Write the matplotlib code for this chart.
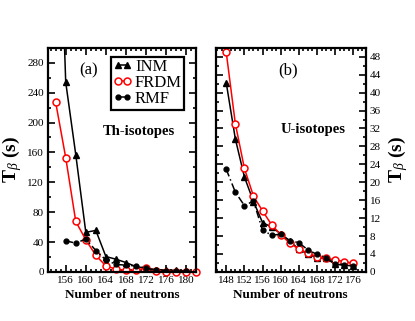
import numpy as np
import matplotlib
matplotlib.use('Agg')
import matplotlib.pyplot as plt
from matplotlib.ticker import MultipleLocator

plt.rcParams['font.family'] = 'Liberation Serif'
plt.rcParams['mathtext.fontset'] = 'custom'
plt.rcParams['mathtext.rm'] = 'Liberation Serif'
plt.rcParams['mathtext.bf'] = 'Liberation Serif:bold'
plt.rcParams['mathtext.it'] = 'Liberation Serif:italic'

# Th-isotopes (panel a)
th_n = [154, 156, 158, 160, 162, 164, 166, 168, 170, 172, 174, 176, 178, 180, 182]
th_inm = [650, 254, 157, 53, 55.5, 20.5, 17, 12.5, 7, 5, 3, 2.5, 2, 1.5]
th_frdm = [227, 153, 67.5, 43, 22, 8, 3.6, 2, 2, 5.5, 1, 0.5, 0.5, 0.3, 0.2]
th_rmf_n = [156, 158, 160, 162, 164, 166, 168, 170, 172, 174, 176, 178, 180]
th_rmf = [41.6, 38.5, 44, 28.6, 16, 10, 9, 8, 5, 2, 1.5, 1, 0.8]

# U-isotopes (panel b)
u_n = [148, 150, 152, 154, 156, 158, 160, 162, 164, 166, 168, 170, 172, 174, 176]
u_inm = [42.2, 29.7, 21.2, 15.7, 11, 10, 8.5, 6.8, 5.1, 3.9, 3.2, 3.0, 1.7, 1.5, 1.3]
u_frdm = [49, 33.1, 23.1, 16.9, 13.6, 10.5, 8.3, 6.4, 5.1, 4.2, 3.4, 3.0, 2.7, 2.3, 1.9]
u_rmf = [22.9, 17.8, 14.8, 15.8, 9.3, 8.2, 8.4, 7.0, 6.5, 4.9, 3.9, 3.2, 1.8, 1.6, 1.4]

fig = plt.figure(figsize=(4.15, 3.21), dpi=100)
ax1 = fig.add_axes([0.116, 0.153, 0.357, 0.698])
ax2 = fig.add_axes([0.520, 0.153, 0.361, 0.698])

inm_kw = dict(color='black', marker='^', ms=4, lw=1.1, label='INM')
frdm_kw = dict(color='red', marker='o', ms=5, mfc='white', mec='red', mew=1.1, lw=1.1, label='FRDM')
rmf_kw = dict(color='black', marker='o', ms=3.5, lw=1.1, dashes=(5, 2, 1, 2), label='RMF')

ax1.plot(th_n[:len(th_inm)], th_inm, **inm_kw)
ax1.plot(th_n, th_frdm, clip_on=False, **frdm_kw)
ax1.plot(th_rmf_n, th_rmf, **rmf_kw)

ax2.plot(u_n, u_inm, **inm_kw)
ax2.plot(u_n, u_frdm, clip_on=False, **frdm_kw)
ax2.plot(u_n, u_rmf, **rmf_kw)

ax1.set_xlim(152.5, 182)
ax1.set_ylim(0, 300)
ax1.xaxis.set_minor_locator(MultipleLocator(1))
ax1.yaxis.set_major_locator(MultipleLocator(40))
ax1.yaxis.set_minor_locator(MultipleLocator(20))
ax1.set_xticks(range(156, 181, 4))

ax2.set_xlim(145.7, 178.7)
ax2.set_ylim(0, 50)
ax2.set_xticks(range(148, 177, 4))
ax2.xaxis.set_minor_locator(MultipleLocator(1))
ax2.yaxis.set_major_locator(MultipleLocator(4))
ax2.yaxis.set_minor_locator(MultipleLocator(2))
ax2.yaxis.tick_right()
ax2.yaxis.set_label_position('right')

for ax in (ax1, ax2):
    for s in ax.spines.values():
        s.set_linewidth(1.6)
    ax.tick_params(which='both', direction='in', top=True, bottom=True, left=True, right=True,
                   labelsize=8, width=1.2)
    ax.tick_params(which='major', length=5, pad=3)
    ax.tick_params(which='minor', length=2.5)
    ax.set_xlabel('Number of neutrons', fontsize=9.5, fontweight='bold', labelpad=3)
ax2.tick_params(labelleft=False, labelright=True)

ylab = r'$\mathbf{T}_{\beta}$ (s)'
ax1.set_ylabel(ylab, fontsize=14, fontweight='bold', labelpad=2)
ax2.set_ylabel(ylab, fontsize=14, fontweight='bold', rotation=90, labelpad=4)

ax1.text(0.27, 0.90, '(a)', transform=ax1.transAxes, fontsize=12, ha='center', va='center')
ax1.text(0.61, 0.625, 'Th-isotopes', transform=ax1.transAxes, fontsize=10.5,
         fontweight='bold', ha='center', va='center')
ax2.text(0.48, 0.90, '(b)', transform=ax2.transAxes, fontsize=12, ha='center', va='center')
ax2.text(0.65, 0.635, 'U-isotopes', transform=ax2.transAxes, fontsize=10.5,
         fontweight='bold', ha='center', va='center')

leg = ax1.legend(loc='upper right', bbox_to_anchor=(0.92, 0.96), fontsize=12, numpoints=2,
                 handlelength=1.1, handletextpad=0.2, labelspacing=0.0, borderpad=0.15,
                 borderaxespad=0, fancybox=False, framealpha=1, edgecolor='black')
leg.get_frame().set_linewidth(1.6)

fig.savefig('out.png', dpi=100)
